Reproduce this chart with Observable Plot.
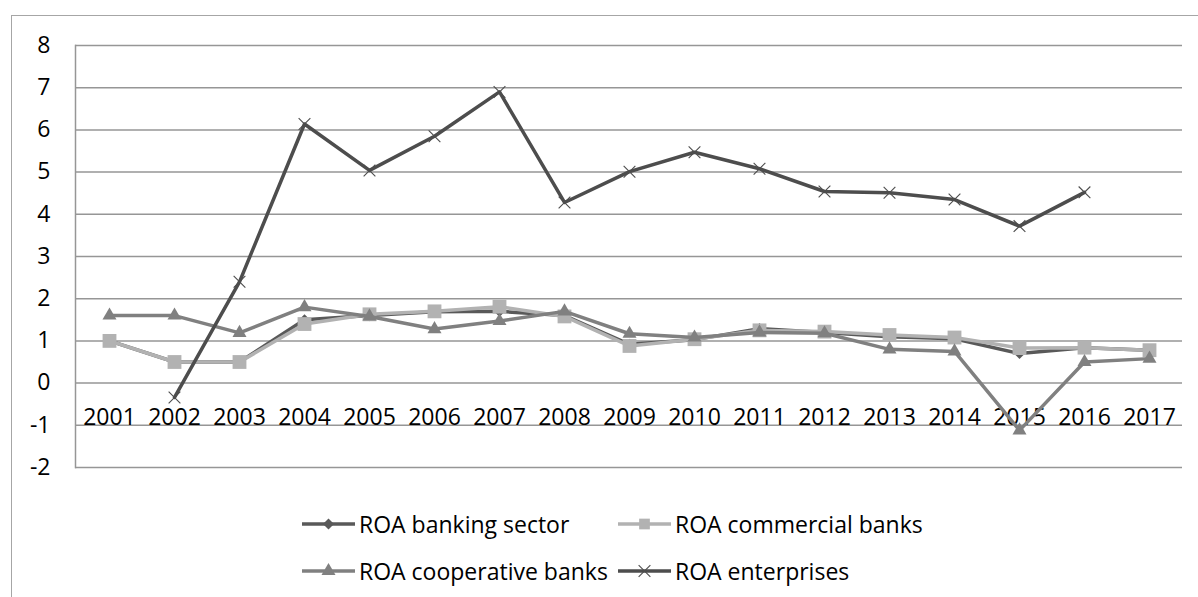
<!DOCTYPE html>
<html>
<head>
<meta charset="utf-8">
<script src="https://cdn.jsdelivr.net/npm/d3@7"></script>
<script src="https://cdn.jsdelivr.net/npm/@observablehq/plot@0.6"></script>
<style>
  html, body { margin: 0; padding: 0; background: #fff; overflow: hidden; }
  #wrap { position: relative; width: 1198px; height: 597px; font-family: "Open Sans", sans-serif; }
  #border { position: absolute; left: 11px; top: 15px; width: 1400px; height: 800px;
            border-left: 1.5px solid #a6a6a6; border-top: 1.5px solid #a6a6a6; }
  #chart { position: absolute; left: 0; top: 0; }
  #legend { position: absolute; left: 302px; top: 500px; display: grid;
            grid-template-columns: 316px 316px; grid-auto-rows: 47px; }
  .item { display: flex; align-items: center; font-size: 23px; color: #000; white-space: nowrap; }
  .item svg { margin-right: 4px; flex: none; }
</style>
</head>
<body>
<div id="wrap">
  <div id="border"></div>
  <div id="chart"></div>
  <div id="legend"></div>
</div>
<script>
const years = ["2001","2002","2003","2004","2005","2006","2007","2008","2009","2010","2011","2012","2013","2014","2015","2016","2017"];
const roaBanking     = [1.0, 0.5, 0.5, 1.5, 1.6, 1.69, 1.7, 1.6, 0.92, 1.03, 1.29, 1.2, 1.1, 1.05, 0.7, 0.84, 0.78];
const roaCommercial  = [1.0, 0.5, 0.5, 1.4, 1.63, 1.7, 1.81, 1.58, 0.88, 1.04, 1.25, 1.22, 1.14, 1.08, 0.83, 0.84, 0.78];
const roaCooperative = [1.6, 1.6, 1.19, 1.8, 1.58, 1.28, 1.47, 1.7, 1.17, 1.08, 1.2, 1.18, 0.8, 0.75, -1.12, 0.5, 0.58];
const roaEnterprises = [null, -0.34, 2.4, 6.14, 5.04, 5.85, 6.9, 4.28, 5.01, 5.47, 5.08, 4.54, 4.51, 4.35, 3.72, 4.52, null];
const yTicks = [-2, -1, 0, 1, 2, 3, 4, 5, 6, 7, 8];

const seriesNames   = ["ROA banking sector", "ROA commercial banks", "ROA cooperative banks", "ROA enterprises"];
const seriesValues  = [roaBanking, roaCommercial, roaCooperative, roaEnterprises];
const seriesColors  = ["#595959", "#b2b2b2", "#808080", "#4d4d4d"];
const seriesSymbols = ["diamond2", "square", "triangle", "times"];
const symbolR       = [5, 7.8, 5.2, 5.4];

const tables = seriesValues.map((vals, i) =>
  years.map((y, j) => ({year: y, value: vals[j], series: seriesNames[i]}))
       .filter(d => d.value != null));

const marks = [
  Plot.ruleY(yTicks, {stroke: "#969696", strokeWidth: 1.5}),
  Plot.frame({anchor: "left", stroke: "#969696", strokeWidth: 1.5}),
  Plot.axisY({ticks: yTicks, tickSize: 0, tickPadding: 25, tickFormat: d => String(d)}),
  Plot.axisX({anchor: "bottom", tickSize: 0, tickPadding: 0, dy: -59})
];
tables.forEach((t, i) => {
  marks.push(Plot.line(t, {x: "year", y: "value", stroke: seriesColors[i], strokeWidth: 3.5}));
  if (seriesSymbols[i] === "times") {
    marks.push(Plot.dot(t, {x: "year", y: "value", symbol: "times", r: symbolR[i], stroke: seriesColors[i], strokeWidth: 1.1, fill: "none"}));
  } else {
    marks.push(Plot.dot(t, {x: "year", y: "value", symbol: seriesSymbols[i], r: symbolR[i], fill: seriesColors[i], stroke: "none"}));
  }
});

const chart = Plot.plot({
  width: 1198,
  height: 492,
  marginLeft: 75,
  marginRight: 16,
  marginTop: 45,
  marginBottom: 25,
  style: {fontFamily: "Open Sans, sans-serif", fontSize: "23px", color: "#000", background: "transparent"},
  x: {type: "point", domain: years, padding: 0.5, label: null},
  y: {domain: [-2, 8], label: null},
  marks
});
document.getElementById("chart").appendChild(chart);

// Legend
const legend = d3.select("#legend");
const symbolMap = {diamond2: d3.symbolDiamond2, square: d3.symbolSquare, triangle: d3.symbolTriangle, times: d3.symbolTimes};
seriesNames.forEach((name, i) => {
  const item = legend.append("div").attr("class", "item");
  const svg = item.append("svg").attr("width", 53).attr("height", 20);
  svg.append("line").attr("x1", 0).attr("x2", 53).attr("y1", 10).attr("y2", 10)
     .attr("stroke", seriesColors[i]).attr("stroke-width", 3.5);
  const sym = seriesSymbols[i];
  const size = Math.PI * symbolR[i] * symbolR[i] * (sym === "square" ? 0.6 : 1);
  const p = svg.append("path").attr("transform", "translate(26.5,10)")
     .attr("d", d3.symbol(symbolMap[sym], size)());
  if (sym === "times") p.attr("fill", "none").attr("stroke", seriesColors[i]).attr("stroke-width", 1.1);
  else p.attr("fill", seriesColors[i]);
  item.append("span").text(name);
});
</script>
</body>
</html>
